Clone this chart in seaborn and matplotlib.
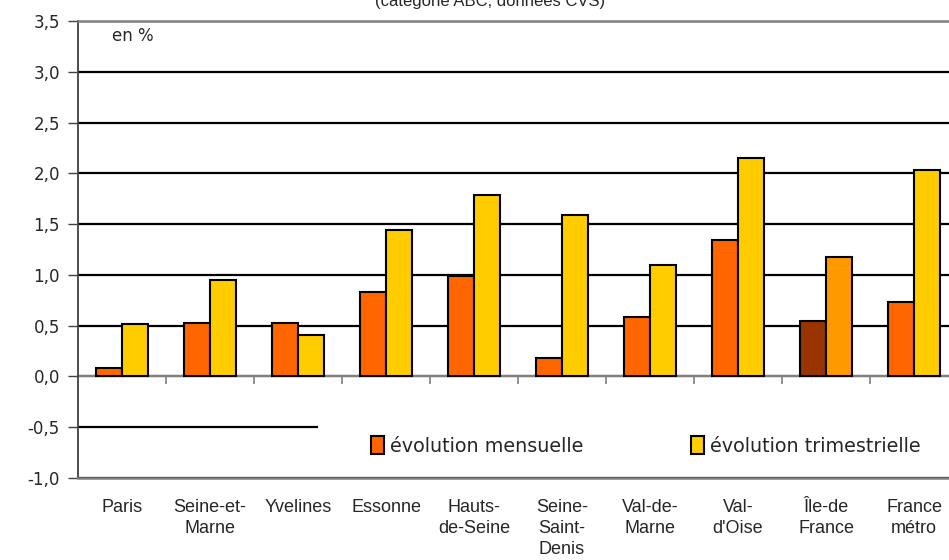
import matplotlib.pyplot as plt
import numpy as np
import pandas as pd
import seaborn as sns
from matplotlib.patches import Rectangle

# values (en %)
territoires = ["Paris", "Seine-et-\nMarne", "Yvelines", "Essonne", "Hauts-\nde-Seine",
               "Seine-\nSaint-\nDenis", "Val-de-\nMarne", "Val-\nd'Oise", "Île-de\nFrance",
               "France\nmétro"]
mensuelle = [0.08, 0.53, 0.53, 0.83, 0.99, 0.18, 0.59, 1.34, 0.55, 0.73]
trimestrielle = [0.52, 0.95, 0.41, 1.44, 1.79, 1.59, 1.10, 2.15, 1.18, 2.03]
series = ["évolution mensuelle", "évolution trimestrielle"]
y_ticks = [-1.0, -0.5, 0.0, 0.5, 1.0, 1.5, 2.0, 2.5, 3.0, 3.5]

COLORS = {"évolution mensuelle": "#FF6600", "évolution trimestrielle": "#FFCC00"}
IDF_COLORS = ["#993300", "#FF9900"]

df = pd.DataFrame({
    "territoire": territoires * 2,
    "serie": [series[0]] * len(territoires) + [series[1]] * len(territoires),
    "valeur": mensuelle + trimestrielle,
})

sns.set_theme(style="white")
plt.rcParams["font.family"] = ["DejaVu Sans"]

fig = plt.figure(figsize=(9.49, 5.6), dpi=100)
ax = fig.add_axes([78 / 949, 82 / 560, 880 / 949, 457 / 560])

sns.barplot(data=df, x="territoire", y="valeur", hue="serie", order=territoires,
            hue_order=series, palette=COLORS, width=0.6, saturation=1,
            edgecolor="black", linewidth=1.5, ax=ax, zorder=3, legend=False)

# Île-de-France highlighted in darker shades
idf = territoires.index("Île-de\nFrance")
for cont, col in zip(ax.containers, IDF_COLORS):
    cont[idf].set_facecolor(col)

ax.set_xlim(-0.5, len(territoires) - 0.5)
ax.set_ylim(-1.0, 3.5)
ax.set_yticks(y_ticks)
ax.set_yticklabels([f"{v:.1f}".replace(".", ",") for v in y_ticks], fontsize=12)
ax.tick_params(axis="y", which="major", direction="out", length=7, width=1,
               color="#404040", left=True, pad=6)
ax.set_xticks(range(len(territoires)))
ax.set_xticklabels(territoires, fontsize=13, family="Liberation Sans", linespacing=1.33)
ax.tick_params(axis="x", length=0, pad=15)
ax.set_xlabel("")
ax.set_ylabel("")

ax.grid(axis="y", color="black", lw=1.6, zorder=0)
ax.set_axisbelow(True)
for s in ("top", "bottom"):
    ax.spines[s].set_color("#808080")
    ax.spines[s].set_linewidth(1.8)
ax.spines["left"].set_color("#404040")
ax.spines["left"].set_linewidth(1.3)
ax.spines["right"].set_visible(False)

# category axis along zero with boundary ticks
ax.axhline(0, color="#808080", lw=1.5, zorder=2)
ax.vlines(np.arange(len(territoires)) + 0.5, -0.075, 0, color="#808080", lw=1.2, zorder=2)

# white box behind the legend hides part of the -0,5 line
ax.add_patch(Rectangle((0.273, 0.02), 0.727, 0.17, transform=ax.transAxes,
                       facecolor="white", edgecolor="none", zorder=1))

handles = [Rectangle((0, 0), 1, 1, facecolor=COLORS[s], edgecolor="black", lw=1.5)
           for s in series]
ax.legend(handles, series, loc="center left", bbox_to_anchor=(0.333, 0.07),
          ncol=2, frameon=False, fontsize=13.8, handlelength=0.7, handleheight=1.0,
          handletextpad=0.3, columnspacing=5.6, borderpad=0, borderaxespad=0)

ax.text(0.039, 0.968, "en %", transform=ax.transAxes, fontsize=12, va="center")
fig.text(0.516, 0.998, "(catégorie ABC, données CVS)", ha="center", va="center",
         fontsize=12, family="Liberation Sans")

fig.savefig("out.png", dpi=100)
